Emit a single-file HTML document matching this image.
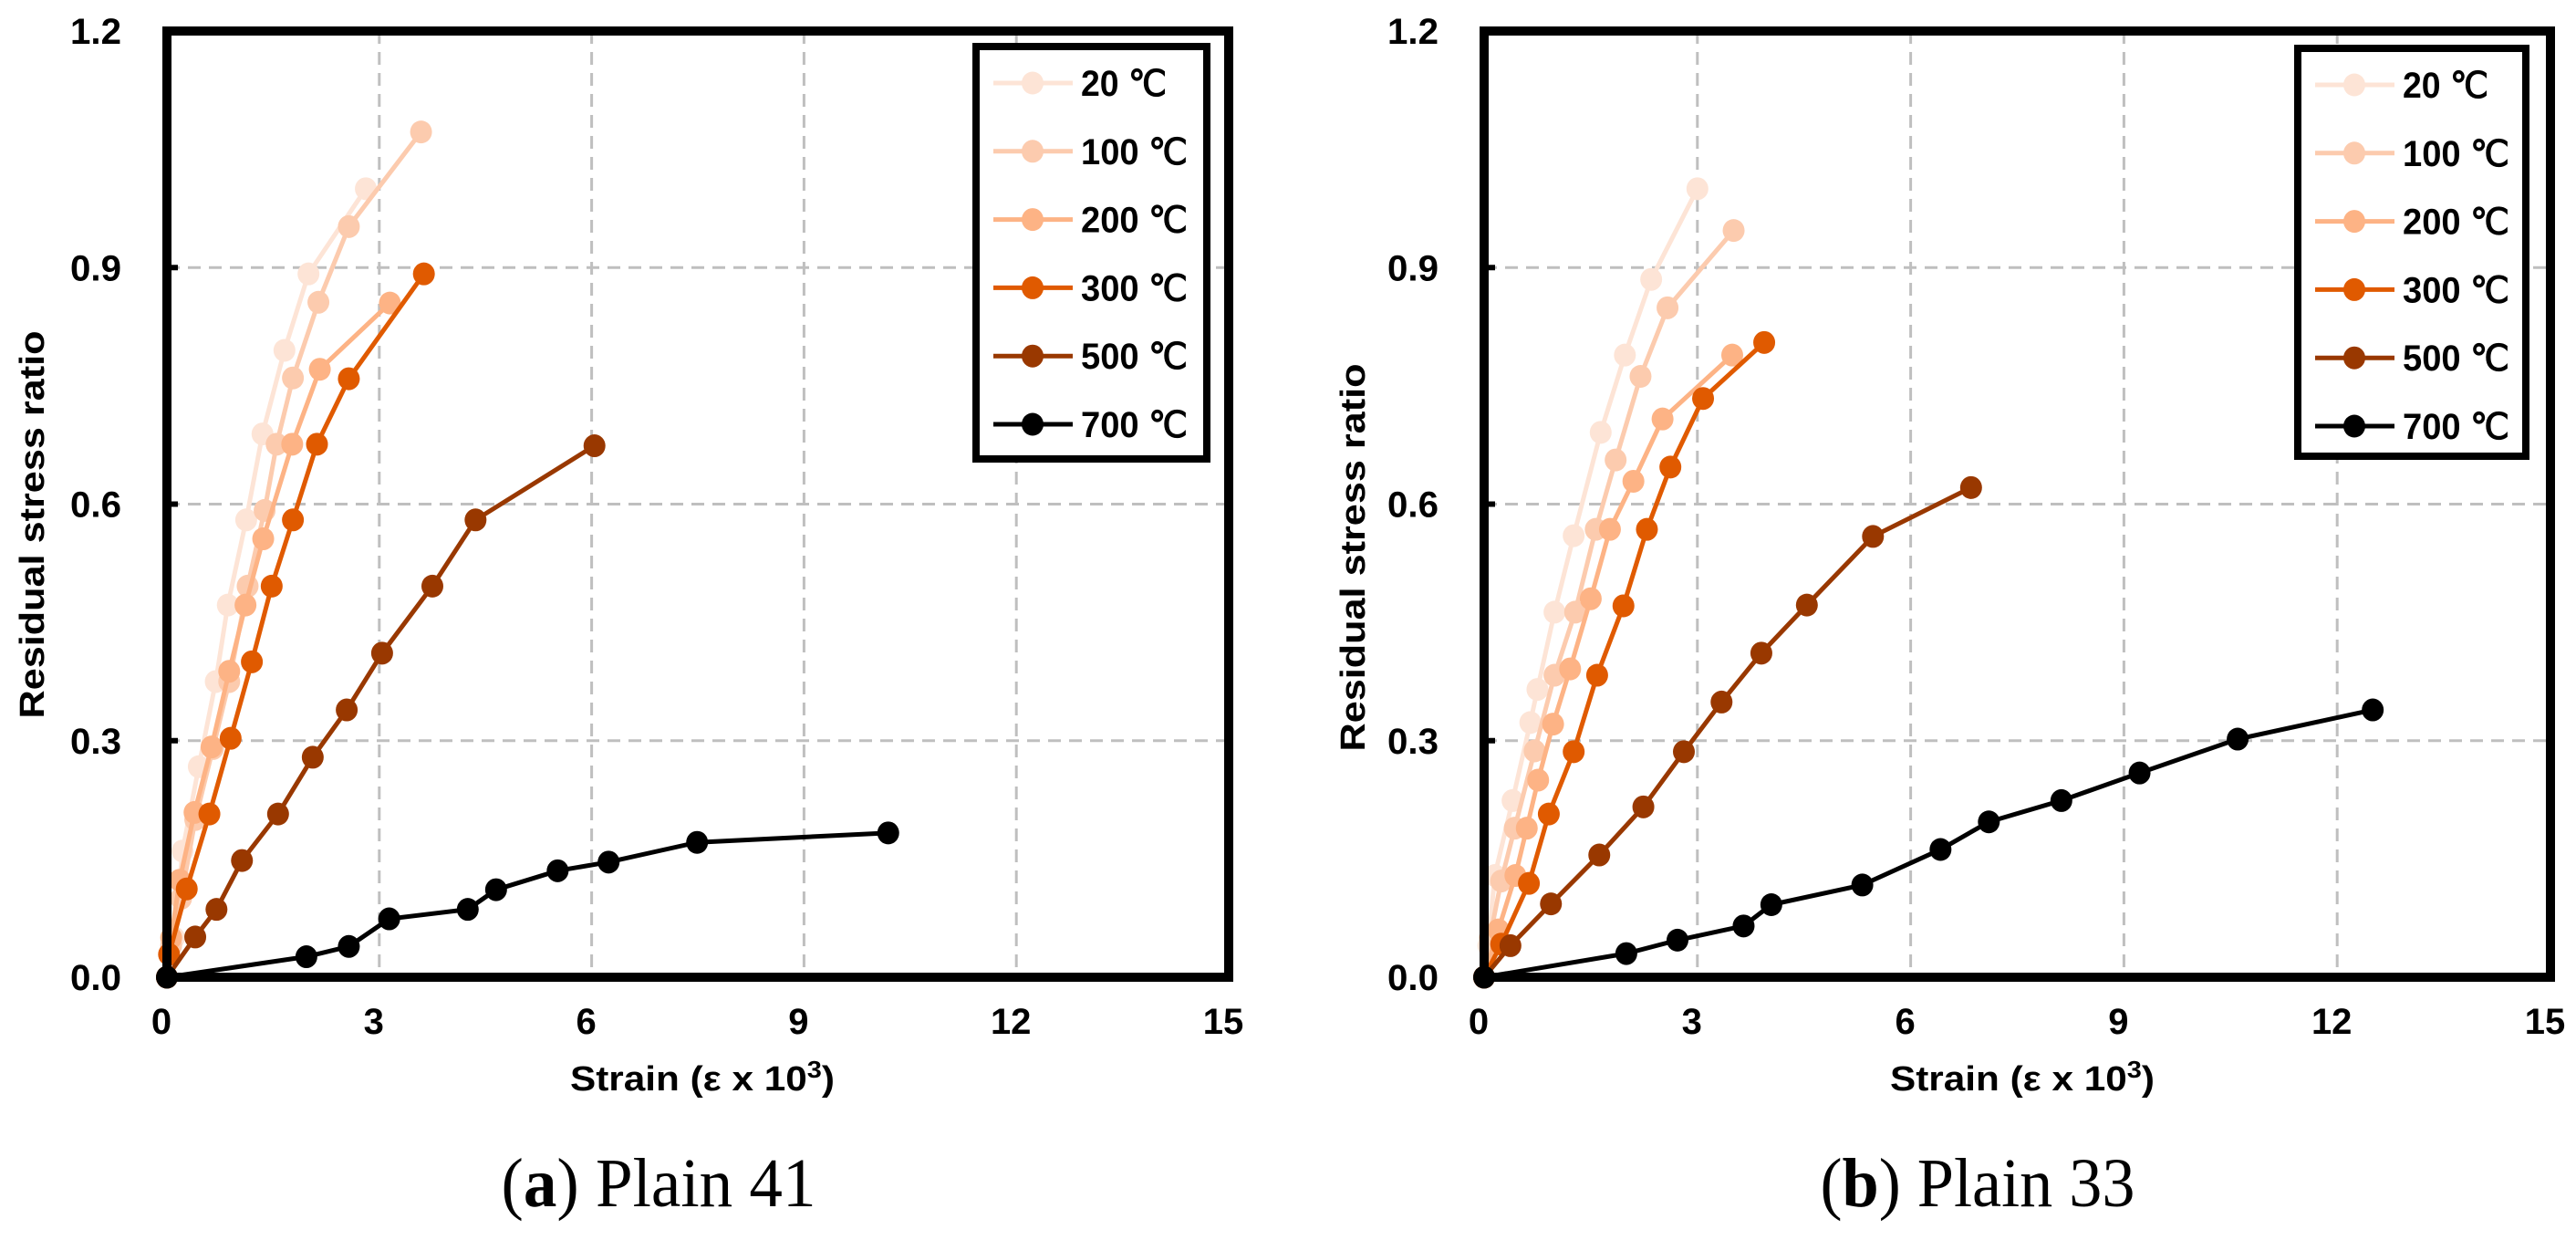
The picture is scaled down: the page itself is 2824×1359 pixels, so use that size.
<!DOCTYPE html>
<html><head><meta charset="utf-8"><style>
html,body{margin:0;padding:0;background:#fff;}
svg{display:block;}
text{font-family:"Liberation Sans",sans-serif;}
</style></head><body>
<svg id="fig" width="2824" height="1359" viewBox="0 0 2824 1359" xmlns="http://www.w3.org/2000/svg">
<rect x="0" y="0" width="2824" height="1359" fill="#fff"/>
</svg>
<script>
const seriesNames = ["20 \u2103", "100 \u2103", "200 \u2103", "300 \u2103", "500 \u2103", "700 \u2103"];
const seriesColors = ["#fde4d6", "#fccbae", "#fdb385", "#e05a00", "#993800", "#000000"];
const xTicks = [0, 3, 6, 9, 12, 15];
const yTicks = [0.0, 0.3, 0.6, 0.9, 1.2];
const yTickLabels = ["0.0", "0.3", "0.6", "0.9", "1.2"];

// Panel (a) Plain 41
const a20x = [0, 0.1, 0.22, 0.45, 0.69, 0.86, 1.12, 1.35, 1.66, 2.0, 2.81];
const a20y = [0, 0.05, 0.16, 0.267, 0.375, 0.472, 0.58, 0.689, 0.795, 0.892, 1.0];
const a100x = [0, 0.06, 0.2, 0.4, 0.65, 0.88, 1.14, 1.38, 1.55, 1.78, 2.14, 2.57, 3.59];
const a100y = [0, 0.04, 0.1, 0.2, 0.29, 0.375, 0.496, 0.592, 0.676, 0.76, 0.856, 0.952, 1.072];
const a200x = [0, 0.06, 0.18, 0.39, 0.63, 0.88, 1.11, 1.36, 1.77, 2.16, 3.15];
const a200y = [0, 0.05, 0.123, 0.209, 0.292, 0.388, 0.472, 0.556, 0.676, 0.771, 0.855];
const a300x = [0, 0.03, 0.28, 0.6, 0.9, 1.2, 1.48, 1.78, 2.12, 2.57, 3.63];
const a300y = [0, 0.029, 0.112, 0.207, 0.303, 0.4, 0.496, 0.58, 0.676, 0.759, 0.892];
const a500x = [0, 0.4, 0.7, 1.06, 1.57, 2.06, 2.54, 3.04, 3.75, 4.36, 6.04];
const a500y = [0, 0.051, 0.086, 0.148, 0.207, 0.279, 0.339, 0.411, 0.496, 0.58, 0.674];
const a700x = [0, 1.97, 2.57, 3.14, 4.25, 4.65, 5.52, 6.24, 7.49, 10.19];
const a700y = [0, 0.026, 0.039, 0.074, 0.086, 0.111, 0.135, 0.146, 0.171, 0.183];

// Panel (b) Plain 33
const b20x = [0, 0.06, 0.15, 0.4, 0.65, 0.75, 0.99, 1.26, 1.64, 1.98, 2.35, 3.0];
const b20y = [0, 0.04, 0.129, 0.224, 0.323, 0.365, 0.463, 0.56, 0.691, 0.789, 0.885, 1.0];
const b100x = [0, 0.08, 0.24, 0.43, 0.71, 0.99, 1.28, 1.57, 1.85, 2.2, 2.58, 3.51];
const b100y = [0, 0.05, 0.122, 0.189, 0.287, 0.383, 0.463, 0.568, 0.656, 0.762, 0.849, 0.947];
const b200x = [0, 0.2, 0.44, 0.6, 0.76, 0.97, 1.21, 1.5, 1.77, 2.1, 2.51, 3.49];
const b200y = [0, 0.06, 0.129, 0.189, 0.25, 0.321, 0.391, 0.48, 0.568, 0.629, 0.708, 0.789];
const b300x = [0, 0.24, 0.63, 0.91, 1.26, 1.59, 1.96, 2.29, 2.62, 3.08, 3.94];
const b300y = [0, 0.042, 0.119, 0.207, 0.286, 0.383, 0.471, 0.568, 0.647, 0.734, 0.805];
const b500x = [0, 0.37, 0.94, 1.62, 2.24, 2.81, 3.34, 3.9, 4.54, 5.47, 6.85];
const b500y = [0, 0.04, 0.093, 0.155, 0.216, 0.286, 0.349, 0.411, 0.472, 0.559, 0.621];
const b700x = [0, 2.0, 2.72, 3.65, 4.04, 5.32, 6.42, 7.1, 8.12, 9.22, 10.6, 12.5];
const b700y = [0, 0.03, 0.047, 0.065, 0.092, 0.117, 0.162, 0.197, 0.224, 0.259, 0.302, 0.339];

const NS = "http://www.w3.org/2000/svg";
const svg = document.getElementById("fig");
function mk(tag, attrs, parent) {
  const e = document.createElementNS(NS, tag);
  for (const k in attrs) e.setAttribute(k, attrs[k]);
  (parent || svg).appendChild(e);
  return e;
}

function drawPanel(cfg) {
  const g = mk("g", {});
  
  
  const X = v => cfg.x0 + (v / 15) * (cfg.x1 - cfg.x0);
  const Y = v => cfg.y0 - (v / 1.2) * (cfg.y0 - cfg.y1);
  // grid
  xTicks.forEach(t => {
    if (t === 0 || t === 15) return;
    const l = mk("line", {x1: X(t), y1: Y(1.2), x2: X(t), y2: Y(0), stroke: "#bfbfbf", "stroke-width": 3, "stroke-dasharray": "14 9"}, g);
    
    
  });
  yTicks.forEach(t => {
    if (t === 0 || t === 1.2) return;
    const l = mk("line", {x1: X(0), y1: Y(t), x2: X(15), y2: Y(t), stroke: "#bfbfbf", "stroke-width": 3, "stroke-dasharray": "14 9"}, g);
    
    
  });
  // y ticks + labels
  yTicks.forEach((t, i) => {
    const tk = mk("line", {x1: X(0), y1: Y(t), x2: X(0) + 12, y2: Y(t), stroke: "#000", "stroke-width": 6}, g);
    
    
    const tx = mk("text", {x: cfg.x0 - 50, y: Y(t) + 14, "text-anchor": "end", "font-size": 40, "font-weight": "bold", textLength: 56, lengthAdjust: "spacingAndGlyphs"}, g);
    tx.textContent = yTickLabels[i];
    
    
  });
  xTicks.forEach(t => {
    const tx = mk("text", {x: X(t) - 6, y: Y(0) + 62, "text-anchor": "middle", "font-size": 40, "font-weight": "bold"}, g);
    tx.textContent = String(t);
    
    
  });
  // series
  cfg.series.forEach((s, i) => {
    const sg = mk("g", {}, g);
    
    
    const pts = s[0].map((xv, j) => X(xv) + "," + Y(s[1][j])).join(" ");
    const pl = mk("polyline", {points: pts, fill: "none", stroke: seriesColors[i], "stroke-width": 5}, sg);
    
    
    s[0].forEach((xv, j) => {
      const c = mk("ellipse", {cx: X(xv), cy: Y(s[1][j]), rx: 12, ry: 12.5, fill: seriesColors[i]}, sg);
      
      
    });
  });
  // frame
  const fr = mk("rect", {x: cfg.x0, y: Y(1.2), width: cfg.x1 - cfg.x0, height: Y(0) - Y(1.2), fill: "none", stroke: "#000", "stroke-width": 10}, g);
  
  
  // legend
  const lg = mk("g", {}, g);
  
  
  const lb = mk("rect", {x: cfg.lx, y: cfg.ly, width: cfg.lw, height: cfg.lh, fill: "#fff", stroke: "#000", "stroke-width": 8}, lg);
  
  
  seriesNames.forEach((n, i) => {
    const ey = cfg.ly + 40 + i * 74.8;
    const eg = mk("g", {}, lg);
    
    
    mk("line", {x1: cfg.lx + 19, y1: ey, x2: cfg.lx + 106, y2: ey, stroke: seriesColors[i], "stroke-width": 5}, eg);
    mk("ellipse", {cx: cfg.lx + 62, cy: ey, rx: 12, ry: 12.5, fill: seriesColors[i]}, eg);
    const t = mk("text", {x: cfg.lx + 115, y: ey + 14, "font-size": 40, "font-weight": "bold", textLength: (n.length === 4 ? 94 : 117), lengthAdjust: "spacingAndGlyphs"}, eg);
    t.textContent = n;
    
    
  });
  // axis titles
  const xt = mk("text", {x: cfg.xtx, y: Y(0) + 124, "text-anchor": "middle", "font-size": 38, "font-weight": "bold", textLength: 290, lengthAdjust: "spacingAndGlyphs"}, g);
  xt.innerHTML = 'Strain (\u03b5 x 10<tspan dy="-14" font-size="26">3</tspan><tspan dy="14">)</tspan>';
  
  
  const yt = mk("text", {x: 0, y: 0, "text-anchor": "middle", "font-size": 38, "font-weight": "bold", transform: "translate(" + cfg.ytx + "," + cfg.yty + ") rotate(-90)", textLength: 425, lengthAdjust: "spacingAndGlyphs"}, g);
  yt.textContent = "Residual stress ratio";
  
  
  const cap = mk("text", {x: cfg.capx, y: 1322, "text-anchor": "middle", "font-size": 76, "font-family": "Liberation Serif, serif", textLength: 345, lengthAdjust: "spacingAndGlyphs", style: "font-family:'Liberation Serif',serif"}, g);
  cap.innerHTML = '(<tspan font-weight="bold">' + cfg.letter + '</tspan>) ' + cfg.caption;
  
  
}

drawPanel({name: "panel-a-plain-41", x0: 183, x1: 1347, y0: 1071, y1: 34,
  lx: 1070, ly: 51, lw: 253, lh: 452, xtx: 770, ytx: 48, yty: 575, capx: 722, letter: "a", caption: "Plain 41",
  series: [[a20x, a20y], [a100x, a100y], [a200x, a200y], [a300x, a300y], [a500x, a500y], [a700x, a700y]]});
drawPanel({name: "panel-b-plain-33", x0: 1627, x1: 2796, y0: 1071, y1: 34,
  lx: 2519, ly: 53, lw: 250, lh: 447, xtx: 2217, ytx: 1496, yty: 611, capx: 2168, letter: "b", caption: "Plain 33",
  series: [[b20x, b20y], [b100x, b100y], [b200x, b200y], [b300x, b300y], [b500x, b500y], [b700x, b700y]]});
</script>
</body></html>
